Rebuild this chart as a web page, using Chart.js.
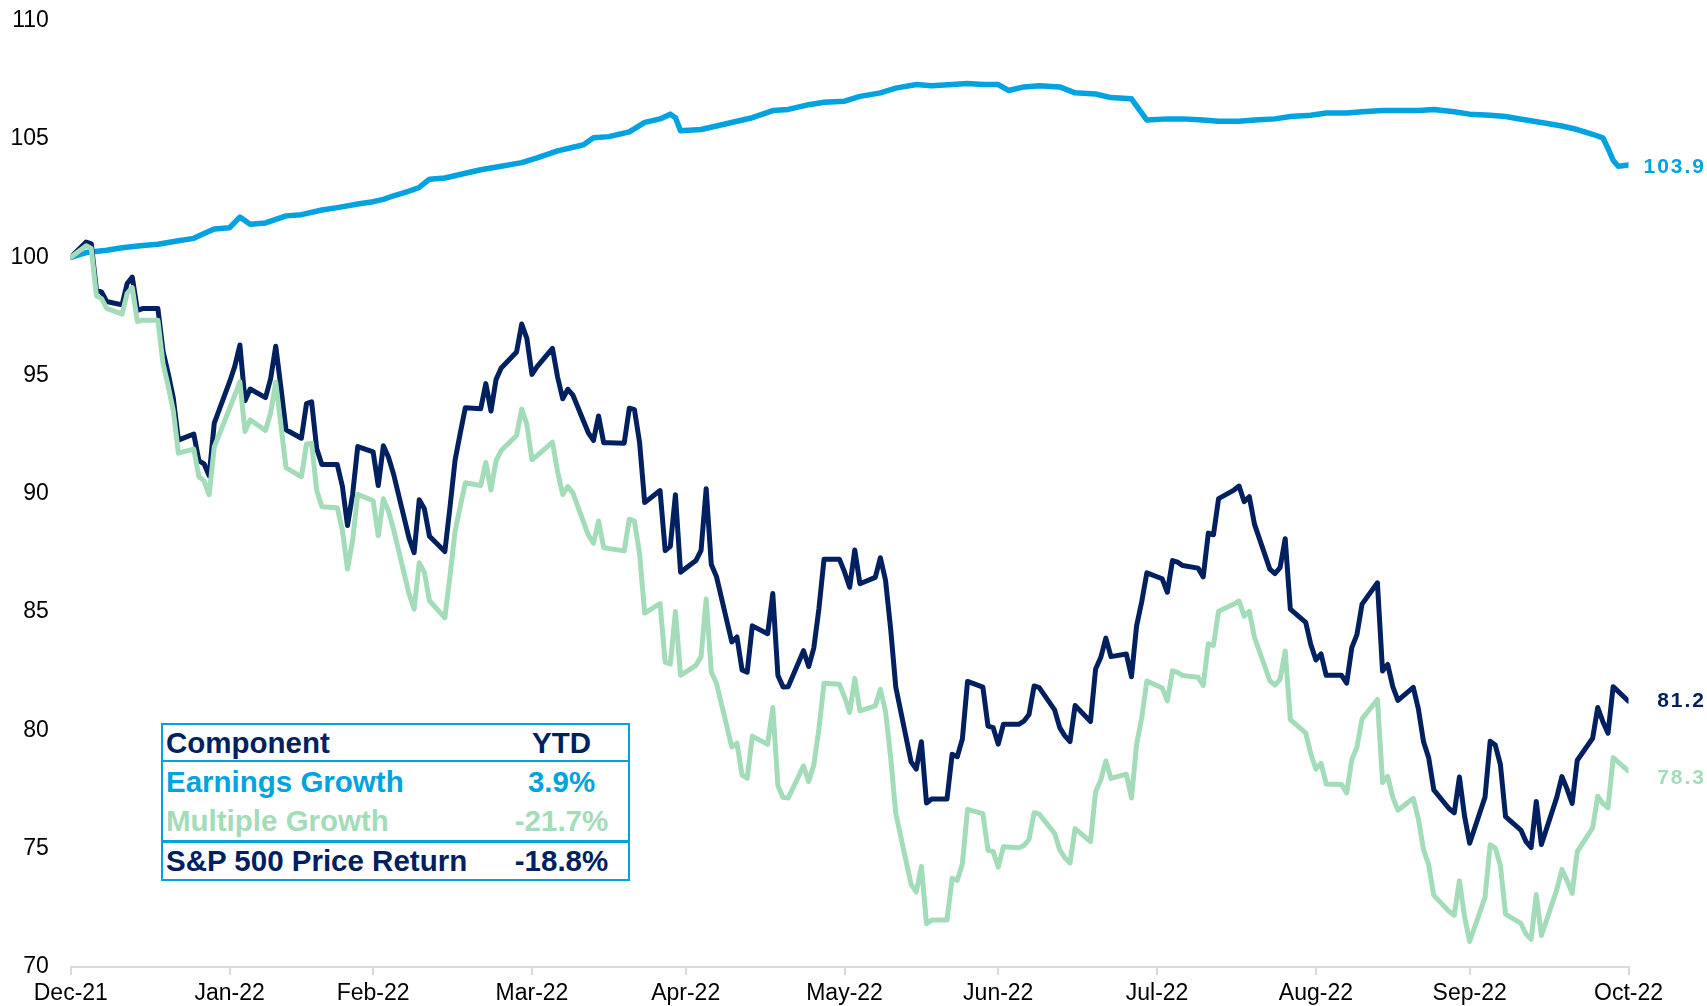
<!DOCTYPE html>
<html>
<head>
<meta charset="utf-8">
<title>Earnings vs Multiple Growth, YTD 2022</title>
<script src="https://cdn.jsdelivr.net/npm/chart.js@4.4.0/dist/chart.umd.min.js"></script>
<style>
    html, body { margin: 0; padding: 0; background: #fff; }
    #wrap { position: relative; width: 1707px; height: 1006px; }
    #chart { display: block; }
    #ytdTable {
        position: absolute; left: 161px; top: 723px; width: 469px;
        box-sizing: border-box; border: 2px solid #00a3e0; background: #fff;
        font-family: "Liberation Sans", Arial, sans-serif; font-weight: bold; font-size: 29.5px;
    }
    .row { position: relative; }
    .row span { position: absolute; top: 0; white-space: nowrap; }
    .row .name { left: 3px; }
    .row .val { left: 338px; width: 121px; text-align: center; }
</style>
</head>
<body>
<div id="wrap">
    <canvas id="chart" width="1707" height="1006"></canvas>
    <div id="ytdTable"></div>
</div>
<script>
// x axis: month-end ticks, counted in days from 31 Dec 2021
const monthEndDays = [0, 31, 59, 90, 120, 151, 181, 212, 243, 273, 304];
const monthLabels = ['Dec-21', 'Jan-22', 'Feb-22', 'Mar-22', 'Apr-22', 'May-22', 'Jun-22', 'Jul-22', 'Aug-22', 'Sep-22', 'Oct-22'];

// S&P 500 price return, indexed to 100 (one value per weekday, holidays carried)
const sp500 = [
    100.00,
    100.64, 100.57, 98.62, 98.53, 98.13, 97.99, 98.89, 99.16, 97.75, 97.83, 97.83, 96.03, 95.10, 94.05, 92.27, 92.53, 91.40, 91.27, 90.77, 92.99, 94.74,
    95.39, 96.29, 93.94, 94.43, 94.07, 94.87, 96.24, 94.50, 92.71, 92.35, 93.81, 93.89, 91.90, 91.24, 91.24, 90.32, 88.66, 89.98, 92.00, 91.77,
    90.35, 92.03, 91.55, 90.83, 88.14, 87.51, 89.75, 89.37, 88.21, 87.56, 89.43, 91.43, 92.56, 93.64, 93.60, 94.66, 93.50, 94.84, 95.32, 96.00, 97.18, 96.57, 95.05,
    95.38, 96.15, 94.94, 94.02, 94.42, 94.17, 92.58, 92.26, 93.29, 92.16, 92.16, 92.14, 93.62, 93.56, 92.18, 89.63, 90.14, 87.60, 87.78, 89.96, 86.69,
    87.18, 87.61, 90.22, 87.01, 86.51, 83.74, 83.95, 82.56, 82.46, 84.42, 84.09, 85.79, 82.32, 81.84, 81.85, 83.37, 82.70, 83.48, 85.14, 87.24, 87.24, 86.70,
    86.05, 87.63, 86.20, 86.47, 87.30, 86.35, 84.30, 81.84, 78.67, 78.37, 79.52, 76.93, 77.10, 77.10, 78.99, 78.89, 79.64, 82.07, 81.83, 80.18, 80.12, 79.42,
    80.26, 80.26, 80.39, 80.67, 81.88, 81.81, 80.87, 80.12, 79.77, 79.53, 81.05, 80.38, 82.60, 83.08, 83.90, 83.12, 83.23, 82.27, 84.42, 85.44, 86.66,
    86.41, 85.84, 87.18, 87.11, 86.97, 86.86, 86.49, 88.34, 88.27, 89.80, 90.16, 90.33, 89.67, 89.88, 88.72, 86.82, 86.63, 86.88, 88.10, 85.13, 84.57, 83.63, 82.98,
    83.23, 82.33, 82.33, 82.00, 83.50, 84.05, 85.34, 86.24, 82.51, 82.79, 81.85, 81.27, 81.82, 80.90, 79.52, 78.85, 77.49, 76.69, 76.52, 78.03, 76.38, 75.23,
    77.18, 79.54, 79.38, 78.56, 76.36, 75.79, 75.30, 75.05, 77.00, 75.18, 77.17, 78.05, 77.53, 76.91, 78.74, 79.67, 80.97, 80.37, 79.88, 81.85, 81.24
];

// Multiple growth (P/E), indexed to 100, same weekdays
const multipleGrowth = [
    100.00,
    100.49, 100.37, 98.37, 98.25, 97.84, 97.60, 98.47, 98.72, 97.28, 97.34, 97.34, 95.50, 94.57, 93.51, 91.72, 91.89, 90.72, 90.55, 89.96, 91.98, 93.62,
    94.17, 94.73, 92.64, 93.13, 92.68, 93.42, 94.72, 92.92, 91.11, 90.72, 92.11, 92.14, 90.14, 89.45, 89.41, 88.46, 86.82, 88.04, 89.98, 89.71,
    88.23, 89.79, 89.27, 88.49, 85.78, 85.13, 87.09, 86.68, 85.48, 84.76, 86.53, 88.42, 89.47, 90.47, 90.35, 91.33, 90.16, 91.41, 91.83, 92.47, 93.59, 92.94, 91.44,
    91.62, 92.19, 90.94, 89.97, 90.31, 90.03, 88.26, 87.91, 88.85, 87.73, 87.69, 87.59, 88.93, 88.85, 87.46, 84.96, 85.36, 82.88, 82.81, 85.03, 82.33,
    82.75, 83.12, 85.56, 82.47, 82.00, 79.30, 79.46, 78.11, 77.98, 79.75, 79.41, 80.97, 77.66, 77.17, 77.14, 78.50, 77.84, 78.53, 80.06, 81.99, 81.95, 81.41,
    80.76, 82.20, 80.83, 81.04, 81.74, 80.81, 78.86, 76.49, 73.49, 73.17, 74.25, 71.83, 71.99, 71.99, 73.75, 73.66, 74.36, 76.66, 76.48, 74.93, 74.88, 74.22,
    75.08, 75.04, 75.13, 75.39, 76.52, 76.46, 75.65, 74.95, 74.62, 74.40, 75.85, 75.30, 77.41, 77.90, 78.71, 77.97, 78.15, 77.14, 79.42, 80.53, 82.09,
    81.79, 81.25, 82.52, 82.45, 82.32, 82.25, 81.90, 83.66, 83.59, 85.04, 85.34, 85.47, 84.83, 85.03, 83.94, 82.10, 81.92, 82.16, 83.36, 80.46, 79.90, 79.01, 78.36,
    78.61, 77.74, 77.71, 77.36, 78.77, 79.29, 80.49, 81.31, 77.80, 78.06, 77.17, 76.63, 77.13, 76.25, 74.95, 74.32, 73.03, 72.35, 72.19, 73.65, 72.12, 71.08,
    72.95, 75.17, 75.03, 74.29, 72.24, 71.84, 71.39, 71.17, 73.06, 71.33, 73.27, 74.12, 73.66, 73.11, 74.88, 75.88, 77.22, 76.91, 76.73, 78.85, 78.28
];

// Earnings growth (forward EPS), indexed to 100, read at these days
const earnDays = [0, 3, 7, 10, 14, 17, 21, 24, 26, 28, 31, 33, 35, 38, 42, 45, 49, 52, 56, 59, 61, 63, 66, 68, 70, 73, 77, 80, 84, 88,
    91, 95, 98, 100, 102, 105, 109, 112, 115, 117, 118, 119, 123, 126, 130, 133, 137, 140, 144, 147, 151, 154, 158, 161, 165, 168,
    172, 175, 178, 181, 183, 186, 189, 193, 196, 200, 203, 207, 210, 214, 217, 221, 224, 228, 231, 235, 238, 242, 245, 249, 252,
    256, 259, 263, 266, 270, 273, 277, 280, 284, 287, 291, 294, 297, 299, 300, 301, 302, 304];
const earnValues = [100.0, 100.2, 100.3, 100.4, 100.5, 100.55, 100.7, 100.8, 101.0, 101.2, 101.25, 101.7, 101.4, 101.45, 101.75, 101.8, 102.0, 102.1, 102.25, 102.35, 102.45, 102.6, 102.8, 102.95, 103.3, 103.35, 103.55, 103.7, 103.85, 104.0,
    104.2, 104.5, 104.65, 104.75, 105.05, 105.1, 105.3, 105.7, 105.85, 106.05, 105.9, 105.35, 105.4, 105.55, 105.75, 105.9, 106.2, 106.25, 106.45, 106.55, 106.6, 106.8, 106.95, 107.15, 107.3, 107.25,
    107.3, 107.35, 107.3, 107.3, 107.05, 107.2, 107.25, 107.2, 106.95, 106.9, 106.75, 106.7, 105.8, 105.85, 105.85, 105.8, 105.75, 105.75, 105.8, 105.85, 105.95, 106.0, 106.1, 106.1, 106.15,
    106.2, 106.2, 106.2, 106.25, 106.15, 106.05, 106.0, 105.95, 105.8, 105.7, 105.55, 105.4, 105.2, 105.05, 104.6, 104.1, 103.85, 103.9];

// table in the corner
const components = ['Earnings Growth', 'Multiple Growth', 'S&P 500 Price Return'];
const ytdReturns = ['3.9%', '-21.7%', '-18.8%'];

const NAVY = '#002060';
const BLUE = '#00a3e0';
const MINT = '#a3dcb9';
const FONT = '"Liberation Sans", Arial, sans-serif';

// weekdays from 31 Dec 2021 to 31 Oct 2022, as day offsets
const tradingDays = [];
const start = Date.UTC(2021, 11, 31);
for (let d = 0; d <= 304; d++) {
    const wd = new Date(start + d * 86400000).getUTCDay();
    if (wd !== 0 && wd !== 6) tradingDays.push(d);
}
if (tradingDays.length !== sp500.length) console.warn('length mismatch', tradingDays.length, sp500.length);

function toPoints(xs, ys) {
    return xs.map((x, i) => ({ x: x, y: ys[i] }));
}

// value labels at the right end of each line
const endLabels = {
    id: 'endLabels',
    afterDatasetsDraw(chart) {
        const ctx = chart.ctx;
        chart.data.datasets.forEach((ds, i) => {
            const meta = chart.getDatasetMeta(i);
            const last = meta.data[meta.data.length - 1];
            const value = ds.data[ds.data.length - 1].y;
            ctx.save();
            ctx.font = 'bold 21px ' + FONT;
            ctx.letterSpacing = '2px';
            ctx.fillStyle = ds.borderColor;
            ctx.textAlign = 'right';
            ctx.textBaseline = 'middle';
            ctx.fillText(value.toFixed(1), chart.width - 1, last.y + ds.labelDy);
            ctx.restore();
        });
    }
};

const ctx = document.getElementById('chart').getContext('2d');
new Chart(ctx, {
    type: 'line',
    data: {
        datasets: [
            { label: 'Multiple Growth', data: toPoints(tradingDays, multipleGrowth), borderColor: MINT, order: 0, labelDy: 7 },
            { label: 'S&P 500 Price Return', data: toPoints(tradingDays, sp500), borderColor: NAVY, order: 1, labelDy: 0 },
            { label: 'Earnings Growth', data: toPoints(earnDays, earnValues), borderColor: BLUE, order: 2, labelDy: 2, borderWidth: 5.5 }
        ]
    },
    options: {
        responsive: false,
        animation: false,
        elements: {
            line: { tension: 0, borderWidth: 5, borderJoinStyle: 'round', borderCapStyle: 'round', fill: false },
            point: { radius: 0, hoverRadius: 0 }
        },
        layout: { padding: { left: 0, right: 78.5, top: 20.7, bottom: 0 } },
        plugins: { legend: { display: false }, tooltip: { enabled: false } },
        scales: {
            x: {
                type: 'linear',
                min: 0,
                max: 304,
                afterBuildTicks: axis => { axis.ticks = monthEndDays.map(v => ({ value: v })); },
                afterFit: axis => {
                    axis.height = 39;
                    axis.paddingLeft = 0;
                    axis.paddingRight = 0;
                },
                grid: { drawOnChartArea: false, drawTicks: true, tickLength: 8, color: '#d9d9d9', lineWidth: 2 },
                border: { display: true, color: '#d9d9d9', width: 2 },
                ticks: {
                    autoSkip: false, maxRotation: 0, padding: 5, color: '#000',
                    font: { family: FONT, size: 23 },
                    callback: (value, index) => monthLabels[index]
                }
            },
            y: {
                min: 70,
                max: 110,
                afterFit: axis => {
                    axis.width = 70.8;
                    axis.paddingTop = 0;
                    axis.paddingBottom = 0;
                },
                grid: { display: false, drawTicks: false },
                border: { display: false },
                ticks: { stepSize: 5, padding: 22, color: '#000', font: { family: FONT, size: 23 } }
            }
        }
    },
    plugins: [endLabels]
});

// YTD table
const table = document.getElementById('ytdTable');
const rowColors = [BLUE, MINT, NAVY];
const rows = [
    { name: 'Component', val: 'YTD', color: NAVY, h: 35, border: '2px solid ' + BLUE },
    { name: components[0], val: ytdReturns[0], color: rowColors[0], h: 39, border: 'none' },
    { name: components[1], val: ytdReturns[1], color: rowColors[1], h: 39, border: '3px solid ' + BLUE },
    { name: components[2], val: ytdReturns[2], color: rowColors[2], h: 36, border: 'none' }
];
rows.forEach(r => {
    const div = document.createElement('div');
    div.className = 'row';
    div.style.height = r.h + 'px';
    div.style.lineHeight = r.h + 'px';
    div.style.color = r.color;
    div.style.borderBottom = r.border;
    div.innerHTML = '<span class="name"></span><span class="val"></span>';
    div.querySelector('.name').textContent = r.name;
    div.querySelector('.val').textContent = r.val;
    table.appendChild(div);
});
</script>
</body>
</html>
